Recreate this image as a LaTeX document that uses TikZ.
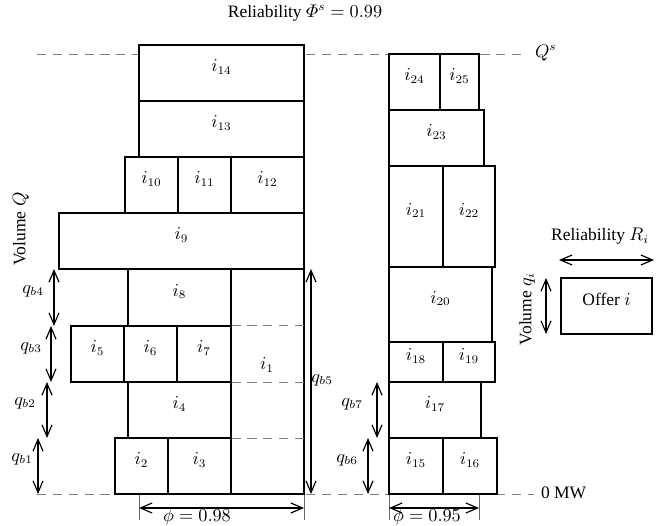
\documentclass[tikz,border=0pt]{standalone}
\usepackage{amsmath}
\usepackage{fontspec}
\setmainfont{Liberation Serif}
\usetikzlibrary{arrows.meta,fit}
\begin{document}
\begin{tikzpicture}[x=0.6pt,y=-0.6pt,
  font=\fontsize{10.5}{12.6}\selectfont,
  offer/.style={draw, fill=white, line width=0.7pt, inner sep=0pt, text height=7pt, text depth=5.5pt},
  guide/.style={draw=black!50, line width=0.5pt, dash pattern=on 5.5pt off 4pt},
  tip/.tip={Straight Barb[length=7pt,width=6pt]},
  dim/.style={draw, line width=0.7pt, tip-tip},
  tick/.style={draw, black!60, line width=0.5pt},
  txt/.style={inner sep=1pt}]
\useasboundingbox (0,0) rectangle (671,526);

% title and side labels
\node[txt] (title) at (305,13) {Reliability $\varPhi^s = 0.99$};
\node[txt, rotate=90] (volQ) at (21,229) {Volume $Q$};
\node[txt, anchor=west] (Qs) at (533,53) {$Q^s$};
\node[txt, anchor=west] (zero) at (539,493) {0 MW};

% reference levels
\coordinate (topL) at (37,54);
\coordinate (topR) at (521,54);
\coordinate (botL) at (37,494);
\coordinate (botR) at (534,494);
\draw[guide] (topL) -- (topR);
\draw[guide] (botL) -- (botR);

% left stack
\node[offer, fit={(139,45)(304,101)}] (i14) {$i_{14}$};
\node[offer, fit={(139,101)(304,157)}] (i13) {$i_{13}$};
\node[offer, fit={(125,157)(178,213)}] (i10) {$i_{10}$};
\node[offer, fit={(178,157)(231,213)}] (i11) {$i_{11}$};
\node[offer, fit={(231,157)(304,213)}] (i12) {$i_{12}$};
\node[offer, fit={(59,213)(304,269)}] (i9) {$i_{9}$};
\node[offer, fit={(128,269)(231,326)}] (i8) {$i_{8}$};
\node[offer, fit={(231,269)(304,494)}] (i1) {};
\node[offer, fit={(71,326)(124,382)}] (i5) {$i_{5}$};
\node[offer, fit={(124,326)(177,382)}] (i6) {$i_{6}$};
\node[offer, fit={(177,326)(231,382)}] (i7) {$i_{7}$};
\node[offer, fit={(128,382)(231,438)}] (i4) {$i_{4}$};
\node[offer, fit={(115,438)(168,494)}] (i2) {$i_{2}$};
\node[offer, fit={(168,438)(231,494)}] (i3) {$i_{3}$};
\node[txt] (i1text) at (267,365) {$i_{1}$};
\draw[guide] (i7.north east) -- (i7.north east -| i1.east);
\draw[guide] (i7.south east) -- (i7.south east -| i1.east);
\draw[guide] (i4.south east) -- (i4.south east -| i1.east);

% right stack
\node[offer, fit={(389,54)(440,110)}] (i24) {$i_{24}$};
\node[offer, fit={(440,54)(479,110)}] (i25) {$i_{25}$};
\node[offer, fit={(389,110)(484,166)}] (i23) {$i_{23}$};
\node[offer, fit={(389,166)(443,267)}] (i21) {$i_{21}$};
\node[offer, fit={(443,166)(495,267)}] (i22) {$i_{22}$};
\node[offer, fit={(389,267)(492,342)}] (i20) {$i_{20}$};
\node[offer, fit={(389,342)(443,382)}] (i18) {$i_{18}$};
\node[offer, fit={(443,342)(495,382)}] (i19) {$i_{19}$};
\node[offer, fit={(389,382)(481,438)}] (i17) {$i_{17}$};
\node[offer, fit={(389,438)(443,494)}] (i15) {$i_{15}$};
\node[offer, fit={(443,438)(497,494)}] (i16) {$i_{16}$};

% block volume arrows
\coordinate (b4t) at (54,269);  \coordinate (b4b) at (54,326);
\coordinate (b3t) at (51,326);  \coordinate (b3b) at (51,382);
\coordinate (b2t) at (47,382);  \coordinate (b2b) at (47,438);
\coordinate (b1t) at (38,438);  \coordinate (b1b) at (38,494);
\coordinate (b5t) at (311,269); \coordinate (b5b) at (311,494);
\coordinate (b7t) at (377,382); \coordinate (b7b) at (377,438);
\coordinate (b6t) at (368,438); \coordinate (b6b) at (368,494);
\draw[dim] (b4t) -- (b4b);
\draw[dim] (b3t) -- (b3b);
\draw[dim] (b2t) -- (b2b);
\draw[dim] (b1t) -- (b1b);
\draw[dim] (b5t) -- (b5b);
\draw[dim] (b7t) -- (b7b);
\draw[dim] (b6t) -- (b6b);
\node[txt] (qb4) at (33,291) {$q_{b4}$};
\node[txt] (qb3) at (31,348) {$q_{b3}$};
\node[txt] (qb2) at (25,403) {$q_{b2}$};
\node[txt] (qb1) at (22,459) {$q_{b1}$};
\node[txt] (qb5) at (322,380) {$q_{b5}$};
\node[txt] (qb7) at (352,404) {$q_{b7}$};
\node[txt] (qb6) at (347,460) {$q_{b6}$};

% reliability spans
\coordinate (pl1) at (139,495); \coordinate (pl2) at (139,520);
\coordinate (pr1) at (304,495); \coordinate (pr2) at (304,520);
\coordinate (ql1) at (389,495); \coordinate (ql2) at (389,520);
\coordinate (qr1) at (479,495); \coordinate (qr2) at (479,520);
\draw[tick] (pl1) -- (pl2);
\draw[tick] (pr1) -- (pr2);
\draw[tick] (ql1) -- (ql2);
\draw[tick] (qr1) -- (qr2);
\coordinate (pa) at (139,508); \coordinate (pb) at (304,508);
\coordinate (qa) at (389,508); \coordinate (qb) at (479,508);
\draw[dim] (pa) -- (pb);
\draw[dim] (qa) -- (qb);
\node[txt] (phi1) at (197,517) {$\phi = 0.98$};
\node[txt] (phi2) at (427,517) {$\phi = 0.95$};

% legend
\node[txt] (relR) at (600,236) {Reliability $R_i$};
\coordinate (ra) at (559,260); \coordinate (rb) at (654,260);
\draw[dim] (ra) -- (rb);
\node[draw, line width=0.7pt, inner sep=0pt, fit={(561,278)(652,334)}] (offer) {Offer $i$};
\coordinate (va) at (546,278); \coordinate (vb) at (546,334);
\draw[dim] (va) -- (vb);
\node[txt, rotate=90] (volq) at (527,309) {Volume $q_i$};
\end{tikzpicture}
\end{document}
